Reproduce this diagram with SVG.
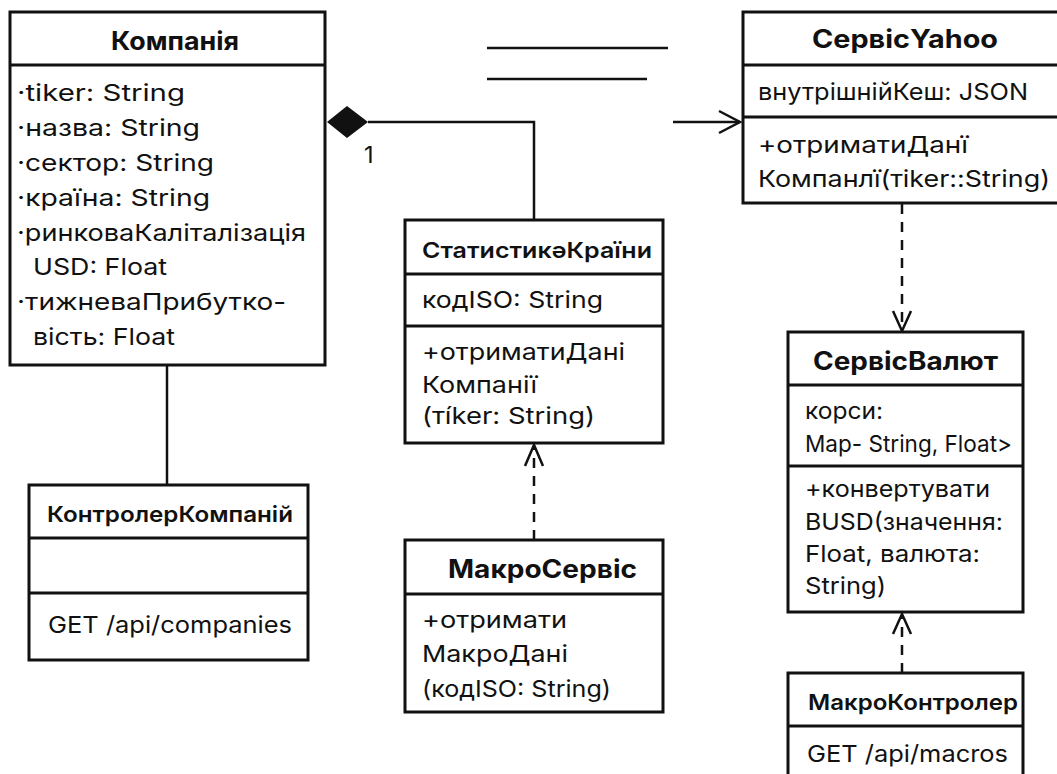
<svg xmlns="http://www.w3.org/2000/svg" width="1057" height="774" viewBox="0 0 1057 774">
<defs>
<style>
.box{fill:#fff;stroke:#111;stroke-width:3}
.sep{stroke:#111;stroke-width:3}
.t{font-family:Inter,"Noto Sans","Liberation Sans",sans-serif;fill:#111;font-size:23.5px}
.b{font-family:Inter,"Noto Sans","Liberation Sans",sans-serif;fill:#111;font-weight:700;font-size:25px}
.m{font-family:Inter,"Noto Sans","Liberation Sans",sans-serif;fill:#111;font-weight:600;font-size:22px}
.ln{fill:none;stroke:#111;stroke-width:2.5}
.dash{fill:none;stroke:#111;stroke-width:2.5;stroke-dasharray:10 8}
.head{fill:none;stroke:#111;stroke-width:2.5}
</style>
</defs>
<rect width="1057" height="774" fill="#fff"/>
<g id="connectors">
<line class="ln" x1="487" y1="48" x2="668" y2="48" stroke-width="3"/>
<line class="ln" x1="487" y1="79" x2="647" y2="79" stroke-width="3"/>
<polyline class="ln" points="368,122 534,122 534,220"/>
<polygon points="327,122 347,106 368,122 347,138" fill="#111"/>
<text class="t" x="364" y="163" font-size="21">1</text>
<line class="ln" x1="673" y1="122" x2="740" y2="122"/>
<polyline class="head" points="719,111 740,122 719,133"/>
<line class="ln" x1="167" y1="365" x2="167" y2="485"/>
<line class="dash" x1="534" y1="540" x2="534" y2="446"/>
<polyline class="head" points="525,466 534,445 543,466"/>
<line class="dash" x1="902" y1="204" x2="902" y2="330"/>
<polyline class="head" points="893,311 902,331 911,311"/>
<line class="dash" x1="902" y1="673" x2="902" y2="616"/>
<polyline class="head" points="893,634 902,614 911,634"/>
</g>
<g id="kompaniya">
<rect class="box" x="10" y="12" width="315" height="353"/>
<line class="sep" x1="10" y1="65" x2="325" y2="65"/>
<text class="b" x="111" y="50" textLength="128" lengthAdjust="spacingAndGlyphs">Компанія</text>
<text class="t" x="17" y="101" textLength="168" lengthAdjust="spacingAndGlyphs">·tiker: String</text>
<text class="t" x="17" y="136" textLength="183" lengthAdjust="spacingAndGlyphs">·назва: String</text>
<text class="t" x="17" y="171" textLength="197" lengthAdjust="spacingAndGlyphs">·сектор: String</text>
<text class="t" x="17" y="206" textLength="193" lengthAdjust="spacingAndGlyphs">·країна: String</text>
<text class="t" x="17" y="241" textLength="289" lengthAdjust="spacingAndGlyphs">·ринковаКаліталізація</text>
<text class="t" x="33" y="275" textLength="134" lengthAdjust="spacingAndGlyphs">USD: Float</text>
<text class="t" x="17" y="310" textLength="269" lengthAdjust="spacingAndGlyphs">·тижневаПрибутко-</text>
<text class="t" x="33" y="345" textLength="142" lengthAdjust="spacingAndGlyphs">вість: Float</text>
</g>
<g id="kontroler-kompaniy">
<rect class="box" x="29" y="485" width="279" height="175"/>
<line class="sep" x1="29" y1="538" x2="308" y2="538"/>
<line class="sep" x1="29" y1="593" x2="308" y2="593"/>
<text class="m" x="47" y="522" textLength="246" lengthAdjust="spacingAndGlyphs">КонтролерКомпаній</text>
<text class="t" x="48" y="633" font-size="22.5" textLength="244" lengthAdjust="spacingAndGlyphs">GET /api/companies</text>
</g>
<g id="statystyka-krainy">
<rect class="box" x="405" y="220" width="258" height="223"/>
<line class="sep" x1="405" y1="274" x2="663" y2="274"/>
<line class="sep" x1="405" y1="326" x2="663" y2="326"/>
<text class="m" x="422" y="258" font-size="23" textLength="230" lengthAdjust="spacingAndGlyphs">СтатистикəКраїни</text>
<text class="t" x="422" y="308" textLength="181" lengthAdjust="spacingAndGlyphs">кодISO: String</text>
<text class="t" x="422" y="360" textLength="203" lengthAdjust="spacingAndGlyphs">+отриматиДані</text>
<text class="t" x="422" y="393" textLength="115" lengthAdjust="spacingAndGlyphs">Компанії</text>
<text class="t" x="422" y="424" textLength="173" lengthAdjust="spacingAndGlyphs">(тíker: String)</text>
</g>
<g id="makro-servis">
<rect class="box" x="405" y="540" width="258" height="172"/>
<line class="sep" x1="405" y1="594" x2="663" y2="594"/>
<text class="b" x="448" y="578" font-size="24" textLength="189" lengthAdjust="spacingAndGlyphs">МакроСервіс</text>
<text class="t" x="422" y="628" textLength="145" lengthAdjust="spacingAndGlyphs">+отримати</text>
<text class="t" x="422" y="662" textLength="146" lengthAdjust="spacingAndGlyphs">МакроДані</text>
<text class="t" x="422" y="697" font-size="22" textLength="189" lengthAdjust="spacingAndGlyphs">(кодISO: String)</text>
</g>
<g id="servis-yahoo">
<rect class="box" x="743" y="12" width="330" height="191"/>
<line class="sep" x1="743" y1="65" x2="1073" y2="65"/>
<line class="sep" x1="743" y1="117" x2="1073" y2="117"/>
<text class="b" x="812" y="48" textLength="186" lengthAdjust="spacingAndGlyphs">СервісYahoo</text>
<text class="t" x="758" y="100" textLength="270" lengthAdjust="spacingAndGlyphs">внутрішнійКеш: JSON</text>
<text class="t" x="758" y="153" textLength="210" lengthAdjust="spacingAndGlyphs">+отриматиДанї</text>
<text class="t" x="758" y="187" textLength="292" lengthAdjust="spacingAndGlyphs">Компанлї(тiker::String)</text>
</g>
<g id="servis-valyut">
<rect class="box" x="788" y="332" width="235" height="280"/>
<line class="sep" x1="788" y1="385" x2="1023" y2="385"/>
<line class="sep" x1="788" y1="466" x2="1023" y2="466"/>
<text class="b" x="813" y="370" font-size="24" textLength="185" lengthAdjust="spacingAndGlyphs">СервісВалют</text>
<text class="t" x="805" y="419" font-size="20" textLength="78" lengthAdjust="spacingAndGlyphs">корси:</text>
<text class="t" x="805" y="452" font-size="20" textLength="207" lengthAdjust="spacingAndGlyphs">Map- String, Float&gt;</text>
<text class="t" x="805" y="497" font-size="22.5" textLength="185" lengthAdjust="spacingAndGlyphs">+конвертувати</text>
<text class="t" x="805" y="530" font-size="22.5" textLength="198" lengthAdjust="spacingAndGlyphs">BUSD(значення:</text>
<text class="t" x="805" y="562" font-size="22.5" textLength="175" lengthAdjust="spacingAndGlyphs">Float, валюта:</text>
<text class="t" x="805" y="594" font-size="22.5" textLength="81" lengthAdjust="spacingAndGlyphs">String)</text>
</g>
<g id="makro-kontroler">
<rect class="box" x="788" y="673" width="235" height="120"/>
<line class="sep" x1="788" y1="726" x2="1023" y2="726"/>
<text class="m" x="808" y="710" font-size="23" textLength="210" lengthAdjust="spacingAndGlyphs">МакроКонтролер</text>
<text class="t" x="807" y="762" font-size="22.5" textLength="201" lengthAdjust="spacingAndGlyphs">GET /api/macros</text>
</g>
</svg>
